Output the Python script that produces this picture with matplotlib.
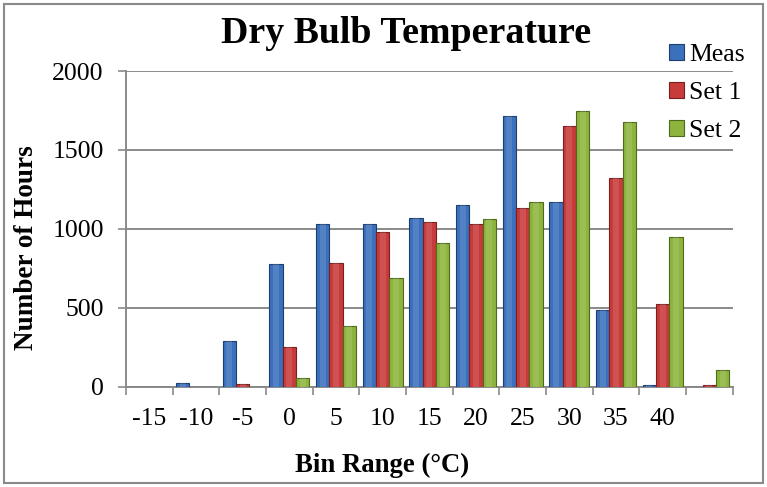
import matplotlib
matplotlib.use("Agg")
import matplotlib.pyplot as plt
from matplotlib.patches import Rectangle
import numpy as np

# values
bins = ["-15", "-10", "-5", "0", "5", "10", "15", "20", "25", "30", "35", "40", ""]
meas = [0, 22, 287, 776, 1030, 1030, 1068, 1152, 1715, 1168, 485, 10, 0]
set1 = [0, 0, 17, 249, 782, 983, 1046, 1032, 1130, 1652, 1320, 521, 8]
set2 = [0, 0, 0, 53, 385, 687, 909, 1060, 1168, 1747, 1675, 946, 105]

series = [("Meas", meas, "#3b70bc", "#1d3f70"),
          ("Set 1", set1, "#c83b3b", "#7a1f1f"),
          ("Set 2", set2, "#8db43d", "#4f6a1c")]

plt.rcParams["font.family"] = ["Liberation Serif", "DejaVu Serif"]

fig = plt.figure(figsize=(7.67, 4.87), dpi=100)
ax = fig.add_axes([126 / 767, 1 - 386.7 / 487, (732.7 - 126) / 767, (386.7 - 71) / 487])

x = np.arange(len(bins))
w = 0.285
for i, (name, vals, col, edge) in enumerate(series):
    pos = x + (i - 1) * w
    ax.bar(pos, vals, width=w, color=col, edgecolor=edge, linewidth=0.8,
           label=name, zorder=3)
    # lighter strip in the middle to hint at the bevel look
    ax.bar(pos, vals, width=w * 0.45, color="white", alpha=0.12,
           linewidth=0, zorder=4)

ax.set_xlim(-0.5, len(bins) - 0.5)
ax.set_ylim(0, 2000)
ax.set_yticks([0, 500, 1000, 1500, 2000])
ax.yaxis.grid(True, color="#8a8a8a", linewidth=1.4, zorder=0)
ax.set_axisbelow(True)

# tick marks on bin edges, labels in the middle
ax.set_xticks(np.arange(-0.5, len(bins), 1.0))
ax.set_xticklabels([])
ax.set_xticks(x, minor=True)
ax.set_xticklabels(bins, minor=True)
ax.tick_params(axis="x", which="major", length=6, width=1.2, color="#8a8a8a", direction="out")
ax.tick_params(axis="x", which="minor", length=0, pad=15, labelsize=18.5)
ax.tick_params(axis="y", length=6, width=1.2, color="#8a8a8a", pad=10, labelsize=18.5)

for side in ["top", "right"]:
    ax.spines[side].set_visible(False)
for side in ["left", "bottom"]:
    ax.spines[side].set_color("#8a8a8a")
    ax.spines[side].set_linewidth(1.4)

fig.text(406 / 767, 1 - 33 / 487, "Dry Bulb Temperature", ha="center", va="center",
         fontsize=27.3, fontweight="bold")
fig.text(382 / 767, 1 - 465 / 487, "Bin Range (°C)", ha="center", va="center",
         fontsize=19.3, fontweight="bold")
fig.text(27 / 767, 1 - 248 / 487, "Number of Hours", ha="center", va="center",
         rotation=90, fontsize=19.5, fontweight="bold")

ax.legend(loc="upper left", bbox_to_anchor=(656 / 767, 1 - 31 / 487),
          bbox_transform=fig.transFigure, frameon=False, fontsize=18.5,
          handlelength=0.6, handleheight=0.6, handletextpad=0.2,
          labelspacing=0.62, borderpad=0)

fig.patches.append(Rectangle((4 / 767, 4 / 487), 759 / 767, 479 / 487,
                             transform=fig.transFigure, fill=False,
                             edgecolor="#8a8a8a", linewidth=1.5))

fig.savefig("out.png", dpi=100)
